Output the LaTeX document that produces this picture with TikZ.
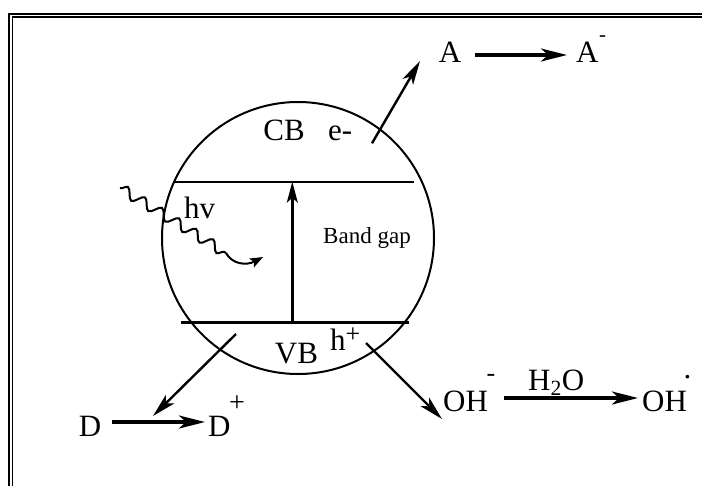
\documentclass[tikz,border=0pt]{standalone}
\usepackage{fontspec}
\setmainfont{Liberation Serif}
\usetikzlibrary{arrows.meta,decorations.pathmorphing}
\begin{document}
\begin{tikzpicture}[x=1pt,y=-1pt,
  lbl/.style={inner sep=0pt,font=\fontsize{31}{36}\selectfont},
  sup/.style={inner sep=0pt,font=\fontsize{26}{30}\selectfont},
  small/.style={inner sep=0pt,font=\fontsize{23}{27}\selectfont},
  rxn/.style={line width=3.2pt,-{Stealth[length=26pt,width=13pt,inset=7pt]}},
  flow/.style={line width=2.4pt,-{Stealth[length=24pt,width=12pt,inset=6pt]}},
  band/.style={line width=2.4pt},
  photon/.style={line width=2pt,decorate,decoration={snake,segment length=20pt,amplitude=5pt,post length=0pt}}]
\useasboundingbox (0,0) rectangle (702,485);
\clip (0,0) rectangle (702,485);
% frame
\draw[line width=2.2pt] (9,500) |- (720,14.3);
\draw[line width=1.3pt] (12.5,500) |- (720,17);
% particle
\node[circle,draw,line width=2pt,minimum size=272pt,inner sep=0pt] (particle) at (298,238) {};
% bands
\coordinate (cbL) at (175,181.7);
\coordinate (cbR) at (414,181.7);
\coordinate (vbL) at (181,322.3);
\coordinate (vbR) at (409,322.3);
\coordinate (gapTop) at (292.3,181.7);
\coordinate (gapBot) at (292.3,322.3);
\draw[band] (cbL) -- (cbR);
\draw[band] (vbL) -- (vbR);
\draw[line width=2.4pt,-{Stealth[length=21pt,width=11pt,inset=5pt]}] (gapBot) -- (gapTop);
% labels in particle
\node[lbl,anchor=base] (CB) at (284,140) {CB};
\node[lbl,anchor=base west] (em) at (328,140) {e-};
\node[small,anchor=base] (gap) at (367,243) {Band gap};
\node[lbl,anchor=base west] (hv) at (184,218) {hv};
\node[lbl,anchor=base] (VB) at (296.5,363) {VB};
\node[lbl,anchor=base west] (h) at (330,350) {h};
\node[sup] (hplus) at (353,335) {+};
% photon
\coordinate (ph0) at (120,188);
\coordinate (ph1) at (226,253);
\coordinate (ph2) at (263,257);
\draw[photon] (ph0) -- (ph1);
\draw[line width=2pt,-{Stealth[length=13pt,width=10pt,inset=3pt]}] (ph1) .. controls (232,264) and (246,266) .. (ph2);
% acceptor
\node[lbl,anchor=base] (A) at (450,62) {A};
\node[lbl,anchor=base west] (Am) at (576,62) {A};
\node[inner sep=0pt,font=\fontsize{21}{24}\selectfont] (Amsup) at (602.5,39) {-};
\coordinate (eStart) at (372,143.3);
\coordinate (eEnd) at (420,61);
\draw[flow] (eStart) -- (eEnd);
\coordinate (aS) at (475,55);
\coordinate (aE) at (567,55);
\draw[rxn] (aS) -- (aE);
% donor
\node[lbl,anchor=base] (D) at (90,436) {D};
\node[lbl,anchor=base west] (Dp) at (208,436) {D};
\node[inner sep=0pt,font=\fontsize{28}{32}\selectfont] (Dpsup) at (237,403.5) {+};
\coordinate (hStart) at (236,334);
\coordinate (hEnd) at (153,416);
\draw[flow] (hStart) -- (hEnd);
\coordinate (dS) at (112,422);
\coordinate (dE) at (205,422);
\draw[rxn] (dS) -- (dE);
% hydroxyl
\coordinate (oStart) at (366,343);
\coordinate (oEnd) at (442,419);
\draw[flow] (oStart) -- (oEnd);
\node[lbl,anchor=base west] (OH) at (443,411) {OH};
\node[sup] (OHsup) at (491,378) {-};
\node[lbl,anchor=base west] (H2O) at (528,390) {H\textsubscript{2}O};
\coordinate (wS) at (504,398);
\coordinate (wE) at (638,398);
\draw[rxn] (wS) -- (wE);
\node[lbl,anchor=base west] (OHr) at (642,411) {OH};
\node[lbl,anchor=base] (OHdot) at (687.5,378.5) {.};
\end{tikzpicture}
\end{document}
